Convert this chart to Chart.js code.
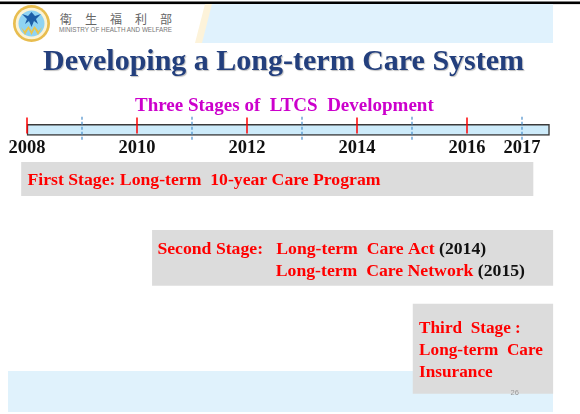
<!DOCTYPE html>
<html>
<head>
<meta charset="utf-8">
<script src="https://cdn.jsdelivr.net/npm/chart.js@4"></script>
<style>
  html, body { margin: 0; padding: 0; background: #fff; }
  #slide { position: relative; width: 580px; height: 414px; overflow: hidden; }
  #slide svg, #slide canvas { position: absolute; left: 0; top: 0; }
  text { white-space: pre; }
</style>
</head>
<body>
<div id="slide">
  <!-- background: header strip, logo, bottom band -->
  <svg width="580" height="414">
    <rect x="0" y="1.5" width="580" height="2.6" fill="#000"/>
    <polygon points="205,4 214,4 204,43 195,43" fill="#fdf3da"/>
    <polygon points="212,4 553,4 553,43 202,43" fill="#e0f2fd"/>
    <circle cx="31.5" cy="23.5" r="18.5" fill="#e8bd4f"/>
    <circle cx="31.5" cy="23.5" r="15.8" fill="#fbf3d6"/>
    <circle cx="31.5" cy="23.5" r="13" fill="#8fd3f3"/>
    <path d="M22,14 L27,19 L25,24 L29,21 L31.5,27 L34,21 L38,24 L36,19 L41,14 L35,16 L31.5,12 L28,16 Z" fill="#1d5fa8"/>
    <path d="M21,27 L25,35 L28.5,29 L31.5,35 L34.5,29 L38,35 L42,27 L38.5,31 L34.5,26 L31.5,31 L28.5,26 L24.5,31 Z" fill="#e9c54e"/>
    <text x="60" y="23.5" font-family="Noto Sans CJK TC" font-size="12" fill="#666" textLength="112" lengthAdjust="spacing">衛生福利部</text>
    <text x="59" y="32.3" font-family="Liberation Sans" font-size="6.3" fill="#777" textLength="113" lengthAdjust="spacingAndGlyphs">MINISTRY OF HEALTH AND WELFARE</text>
    <rect x="8" y="371" width="545" height="41" fill="#e0f2fc"/>
  </svg>

  <canvas id="chart" width="580" height="414"></canvas>

  <!-- slide texts on top -->
  <svg width="580" height="414">
    <text x="43" y="70" font-family="Liberation Serif" font-weight="bold" font-size="30" fill="#233f7d"
          style="text-shadow: 1px 1px 1px rgba(0,0,0,0.25)">Developing a Long-term Care System</text>
    <text x="135" y="110.7" font-family="Liberation Serif" font-weight="bold" font-size="19" fill="#cc00cc">Three Stages of  LTCS  Development</text>
    <text x="510.5" y="394.5" font-family="Liberation Sans" font-size="7.5" fill="#999">26</text>
  </svg>
</div>
<script>
// years on the timeline
const redYears = [2008, 2010, 2012, 2014, 2016];
const blueYears = [2009, 2011, 2013, 2015, 2017];
const tickYears = [2008, 2010, 2012, 2014, 2016, 2017];
const timelineSpan = [2008, 2017.5];

// the three stages: span along the timeline (years) and their text
const stageNames = ['First Stage', 'Second Stage', 'Third Stage'];
const stageSpans = [[2007.9, 2017.2], [2010.28, 2017.56], [2015.02, 2017.56]];
const stageLines = [
    ['First Stage: Long-term  10-year Care Program'],
    ['Second Stage:   Long-term  Care Act (2014)', 'Long-term  Care Network (2015)'],
    ['Third  Stage :', 'Long-term  Care', 'Insurance']
];

// layout (vertical lanes in page pixels, y scale runs 0..414 top-down)
const timelineLane = { y: 129.8, thickness: 11, axisAt: 135 };
const redMark = { y: 125.5, half: 8 };
const blueMark = { top: 116.7, bottom: 140 };
const boxLayout = [
    { y: 179, thickness: 33.4, font: 17.7, padX: 6, firstBaseline: 22.7, lineGap: 22.6, indents: [0] },
    { y: 257.8, thickness: 55, font: 17.7, padX: 5, firstBaseline: 23.4, lineGap: 22.6, indents: [0, 118.4] },
    { y: 348.7, thickness: 89.3, font: 17.2, padX: 6, firstBaseline: 29.3, lineGap: 22, indents: [0, 0, 0] }
];

const datasets = [];

datasets.push({
    type: 'scatter',
    label: 'milestones',
    data: redYears.map(yr => ({ x: yr, y: redMark.y })),
    pointStyle: 'line',
    rotation: 90,
    pointRadius: redMark.half,
    borderColor: '#ff0000',
    borderWidth: 1.5,
    order: 1
});

datasets.push({
    type: 'line',
    label: 'half years',
    data: blueYears.flatMap(yr => [{ x: yr, y: blueMark.top }, { x: yr, y: blueMark.bottom }, { x: yr, y: null }]),
    borderColor: '#4a8fcc',
    borderWidth: 1.2,
    borderDash: [3, 2],
    pointRadius: 0,
    spanGaps: false,
    order: 2
});

datasets.push({
    type: 'bar',
    label: 'timeline',
    indexAxis: 'y',
    grouped: false,
    data: [{ x: timelineSpan, y: timelineLane.y }],
    barThickness: timelineLane.thickness,
    backgroundColor: '#cdebfa',
    borderColor: '#3a3a3a',
    borderWidth: 1.5,
    borderSkipped: false,
    order: 3
});

stageNames.forEach((name, i) => {
    datasets.push({
        type: 'bar',
        label: name,
        indexAxis: 'y',
        grouped: false,
        data: [{ x: stageSpans[i], y: boxLayout[i].y }],
        barThickness: boxLayout[i].thickness,
        backgroundColor: '#dcdcdc',
        borderWidth: 0,
        order: 4
    });
});

// writes the stage texts inside their boxes, years in brackets in black
const stageTextPlugin = {
    id: 'stageText',
    afterDatasetsDraw(chart) {
        const ctx = chart.ctx;
        ctx.save();
        ctx.textBaseline = 'alphabetic';
        stageNames.forEach((name, i) => {
            const idx = chart.data.datasets.findIndex(d => d.label === name);
            const bar = chart.getDatasetMeta(idx).data[0];
            const lay = boxLayout[i];
            const left = Math.min(bar.x, bar.base);
            const top = bar.y - bar.height / 2;
            ctx.font = 'bold ' + lay.font + 'px "Liberation Serif"';
            stageLines[i].forEach((line, j) => {
                let x = left + lay.padX + (lay.indents[j] || 0);
                const y = top + lay.firstBaseline + j * lay.lineGap;
                line.split(/(\(\d{4}\))/).filter(Boolean).forEach(part => {
                    ctx.fillStyle = /^\(\d{4}\)$/.test(part) ? '#111' : '#ff0000';
                    ctx.fillText(part, x, y);
                    x += ctx.measureText(part).width;
                });
            });
        });
        ctx.restore();
    }
};

new Chart(document.getElementById('chart'), {
    type: 'scatter',
    data: { datasets },
    options: {
        responsive: false,
        animation: false,
        devicePixelRatio: 1,
        layout: { padding: 0, autoPadding: false },
        plugins: { legend: { display: false }, tooltip: { enabled: false } },
        scales: {
            x: {
                type: 'linear',
                min: 2008 - 27 / 55,
                max: 2008 - 27 / 55 + 580 / 55,
                offset: false,
                position: { y: timelineLane.axisAt },
                afterBuildTicks: (scale) => {
                    scale.ticks = tickYears.map(v => ({ value: v }));
                },
                grid: { display: false, drawTicks: false },
                border: { display: false },
                ticks: {
                    autoSkip: false,
                    maxRotation: 0,
                    padding: 2,
                    color: '#111',
                    font: { family: 'Liberation Serif', weight: 'bold', size: 18.5 },
                    callback: (v) => String(v)
                }
            },
            y: {
                type: 'linear',
                display: false,
                reverse: true,
                min: 0,
                max: 414,
                offset: false
            }
        }
    },
    plugins: [stageTextPlugin]
});
</script>
</body>
</html>
